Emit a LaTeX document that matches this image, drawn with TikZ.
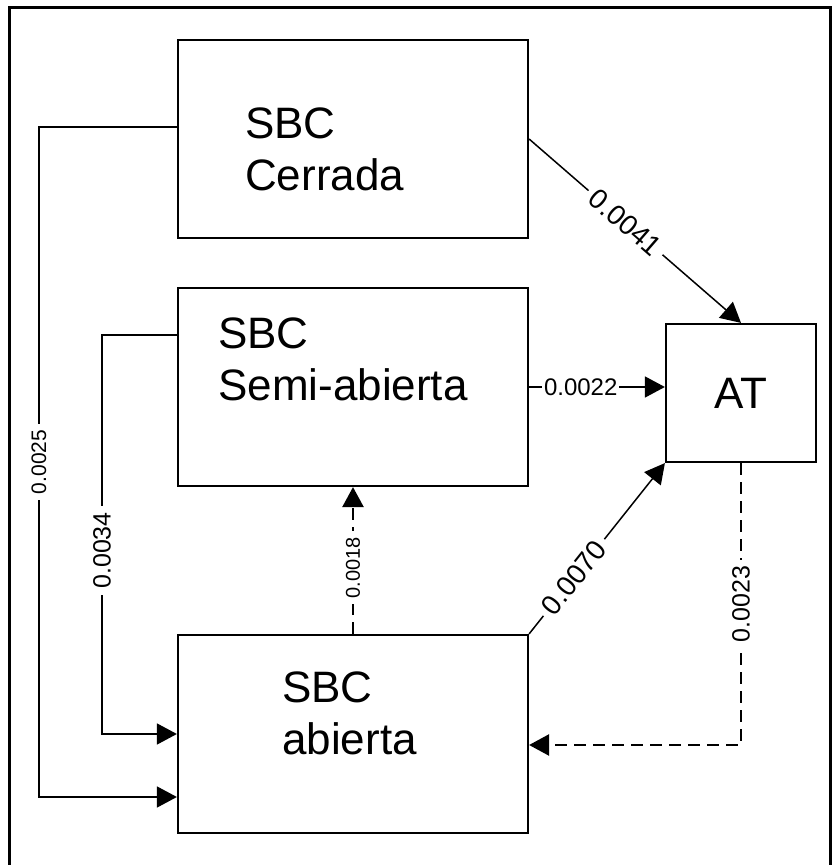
\documentclass[tikz,border=0pt]{standalone}
\usepackage{fontspec}
\setmainfont{Liberation Sans}
\usetikzlibrary{arrows.meta}

\begin{document}
\begin{tikzpicture}[x=1pt,y=1pt,
  caja/.style={draw,line width=2.2pt,minimum width=350pt,minimum height=198pt,inner sep=0pt},
  texto/.style={anchor=north west,align=left,inner sep=0pt,font=\fontsize{44}{52}\selectfont},
  flecha/.style={line width=1.5pt,-{Triangle[length=20pt,width=21pt]}},
  punteada/.style={flecha,line width=2.5pt,dash pattern=on 12pt off 7pt},
  etiq/.style={fill=white,inner sep=6pt,font=\fontsize{24}{28}\selectfont}]

\useasboundingbox (0,0) rectangle (838,865);
%marco
\draw[line width=3pt] (9,0) -- (9,857) -- (830,857) -- (830,0);

%cajas
\node[caja] (cerrada) at (353,726) {};
\node[caja] (semi) at (353,478) {};
\node[caja] (abierta) at (353,131) {};
\node[draw,line width=2.2pt,minimum width=150pt,minimum height=138pt,
  font=\fontsize{44}{52}\selectfont] (AT) at (741,472) {AT};

\node[texto] (cerradaTxt) at (245,757) {SBC\\Cerrada};
\node[texto] (semiTxt) at (218,547) {SBC\\Semi-abierta};
\node[texto] (abiertaTxt) at (282,193) {SBC\\abierta};

%flechas
\draw[flecha] ([yshift=12pt]cerrada.west) -- ++(-138,0)
  |- ([yshift=-63pt]abierta.west) node[etiq,pos=0.25,rotate=90,font=\fontsize{21}{25}\selectfont] {0.0025};
\draw[flecha] ([yshift=52pt]semi.west) -- ++(-75,0)
  |- (abierta.west) node[etiq,pos=0.27,rotate=90,font=\fontsize{25}{29}\selectfont] {0.0034};
\draw[punteada] (abierta.north) -- (semi.south) node[etiq,pos=0.45,rotate=90,font=\fontsize{20}{24}\selectfont] {0.0018};
\draw[flecha] (cerrada.east) -- (AT.north) node[etiq,pos=0.455,sloped,font=\fontsize{28}{32}\selectfont] {0.0041};
\draw[flecha] (semi.east) -- (semi.east -| AT.west) node[etiq,inner sep=2pt,pos=0.38] {0.0022};
\draw[flecha] (abierta.north east) -- (AT.south west) node[etiq,pos=0.33,sloped,font=\fontsize{28}{32}\selectfont] {0.0070};
\draw[punteada] (AT.south) |- ([yshift=-11pt]abierta.east) node[etiq,pos=0.25,rotate=90,font=\fontsize{25}{29}\selectfont] {0.0023};

\end{tikzpicture}
\end{document}
